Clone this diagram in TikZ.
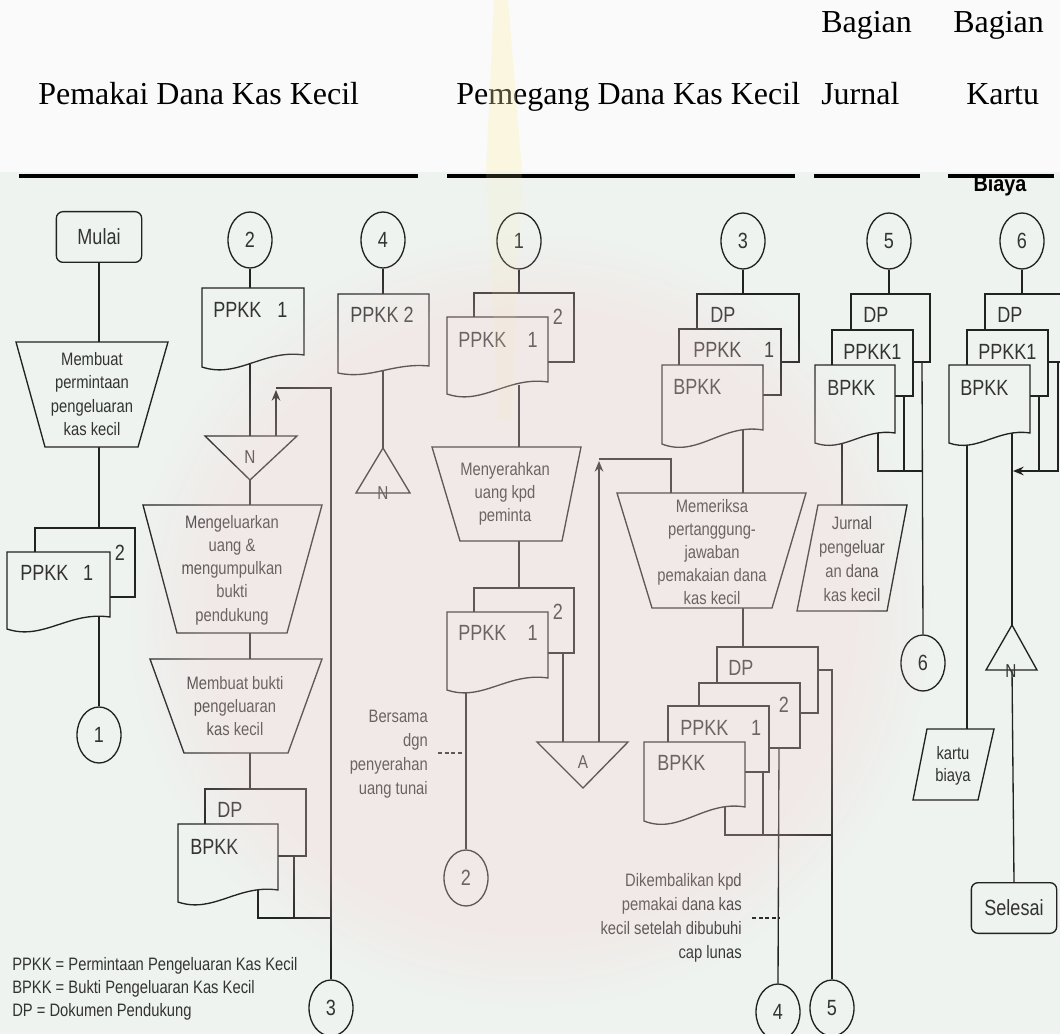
\documentclass[tikz,border=0pt]{standalone}
\usepackage{fontspec}
\setmainfont{Liberation Serif}
\newfontfamily\nar[FakeStretch=0.82]{Liberation Sans}
\newfontfamily\narb[FakeStretch=0.9]{Liberation Sans}
\usetikzlibrary{arrows.meta,shapes.geometric,fadings}

\definecolor{ink}{HTML}{222222}
\definecolor{txt}{HTML}{333333}
\definecolor{bgc}{HTML}{EEF3EF}
\definecolor{hdr}{HTML}{F9FAF9}
\definecolor{wmpink}{HTML}{F7D3D8}
\definecolor{wmyel}{HTML}{FFF0A8}

\tikzset{
  ln/.style={line width=1pt, draw=ink},
  shp/.style={ln, fill=bgc},
  hd/.style={inner sep=0, text=black, font=\fontsize{24}{28}\selectfont},
  bar/.style={line width=3pt, draw=black},
  dlab/.style={inner sep=0, text=txt, font=\nar\fontsize{16.5}{18}\selectfont},
  ptxt/.style={inner sep=0, text=txt, align=center, font=\nar\fontsize{13.5}{17.4}\selectfont},
  note/.style={inner sep=0, text=txt, align=right, font=\nar\fontsize{13.5}{18}\selectfont},
  conn/.style={ellipse, ln, fill=bgc, minimum width=33pt, minimum height=42pt, inner sep=0,
    text=txt, font=\nar\fontsize{16.5}{16.5}\selectfont},
  term/.style={ln, fill=bgc, rounded corners=5pt, minimum width=64pt, minimum height=38pt,
    inner sep=0, text=txt, font=\nar\fontsize{16.5}{18}\selectfont},
  nlab/.style={inner sep=0, text=txt, font=\nar\fontsize{14}{14}\selectfont},
  dashln/.style={ln, dash pattern=on 3pt off 2pt},
  tip/.style={-{Stealth[length=8pt,width=6.5pt]}},
}

% document symbol with a wavy lower edge: x1 y1 x2 y2(right bottom) amplitude
\newcommand\docfront[5]{\filldraw[shp] (#1,#2) -- (#3,#2) -- (#3,#4)
  .. controls ({#1+0.6*(#3-#1)},{#4-0.5*#5}) and ({#1+0.35*(#3-#1)},{#4+2*#5}) .. (#1,{#4+#5}) -- cycle;}
% visible outline of a copy lying behind another one: x1 y1 x2 y2 xfront yfront
\newcommand\docback[6]{\draw[ln] (#1,#6) -- (#1,#2) -- (#3,#2) -- (#3,#4) -- (#5,#4);}
% manual operation: ytop xtl xtr ybot xbl xbr
\newcommand\trapez[6]{\filldraw[shp] (#2,#1) -- (#3,#1) -- (#6,#4) -- (#5,#4) -- cycle;}

\begin{document}
\begin{tikzpicture}[x=0.75pt, y=-0.75pt]
\useasboundingbox (0,0) rectangle (1060,1034);
\fill[bgc] (0,0) rectangle (1060,1034);
\fill[hdr] (0,0) rectangle (1060,172);

% ---------------- header
\node[hd, anchor=base west] (h5) at (821,33) {Bagian};
\node[hd, anchor=base west] (h6) at (953,33) {Bagian};
\node[hd, anchor=base west] (h1) at (38,105) {Pemakai Dana Kas Kecil};
\node[hd, anchor=base west] (h2) at (456,105) {Pemegang Dana Kas Kecil};
\node[hd, anchor=base west] (h3) at (821,105) {Jurnal};
\node[hd, anchor=base west] (h4) at (966,105) {Kartu};
\node[inner sep=0, anchor=base, font=\narb\bfseries\fontsize{16.5}{18}\selectfont] (h7) at (1000,192) {Biaya};
\draw[bar] (19,176) -- (418,176);
\draw[bar] (447,176) -- (795,176);
\draw[bar] (814,176) -- (920,176);
\draw[bar] (948,176) -- (1054,176);

% ---------------- named points
\coordinate (tAt) at (99,342);  \coordinate (tAb) at (99,447);
\coordinate (dAt) at (99,528);  \coordinate (dAb) at (99,610);

\coordinate (dBt) at (250,288); \coordinate (dBb) at (250,355);
\coordinate (nBt) at (250,436); \coordinate (nBb) at (250,480);
\coordinate (tBt) at (250,505); \coordinate (tBb) at (250,633);
\coordinate (tCt) at (250,659); \coordinate (tCb) at (250,753);
\coordinate (eBt) at (250,789);
\coordinate (eB1) at (258,882); \coordinate (eB1j) at (258,918);
\coordinate (eB2) at (294,856); \coordinate (eB2j) at (294,918);
\coordinate (jB) at (331,918);
\coordinate (rBt) at (331,388); \coordinate (rBc) at (276,388);
\coordinate (nBa) at (276,436); \coordinate (rBtip) at (276,390);

\coordinate (dCt) at (383,294);
\coordinate (dCb) at (383,366); \coordinate (nCt) at (383,448);

\coordinate (dDt) at (519,293); \coordinate (dDb) at (519,385);
\coordinate (tDt) at (519,447); \coordinate (tDb) at (519,541);
\coordinate (fDt) at (519,588); \coordinate (fDb) at (466,682);
\coordinate (fD2) at (563,653); \coordinate (aDt) at (563,742);
\coordinate (qD1) at (438,753); \coordinate (qD2) at (466,753);
\coordinate (aDr) at (599,742); \coordinate (aDtip) at (599,461);
\coordinate (rDc) at (599,459); \coordinate (rDe) at (671,459);
\coordinate (tEa) at (671,493);

\coordinate (dEt) at (743,294); \coordinate (dEb) at (743,425);
\coordinate (tEt) at (743,493); \coordinate (tEb) at (743,608);
\coordinate (gEt) at (743,647);
\coordinate (gE1) at (725,800); \coordinate (gE1j) at (725,835);
\coordinate (gE2) at (763,772); \coordinate (gE2j) at (763,835);
\coordinate (gE3) at (779,748);
\coordinate (gE4) at (818,670); \coordinate (gE4c) at (832,670);
\coordinate (jE) at (832,835);
\coordinate (qE1) at (752,918); \coordinate (qE2) at (779,918);

\coordinate (dFt) at (889,294);
\coordinate (dF1) at (878,428); \coordinate (dF1j) at (878,471);
\coordinate (dF2) at (904,396); \coordinate (dF2j) at (904,471);
\coordinate (dF3) at (922,362); \coordinate (jF) at (922,471);
\coordinate (dFb) at (842,438); \coordinate (pFt) at (842,505);

\coordinate (dGt) at (1022,294);
\coordinate (dG2) at (1039,396); \coordinate (dG2j) at (1039,471);
\coordinate (dG3) at (1058,362); \coordinate (dG3j) at (1058,471);
\coordinate (jG) at (1013,471);
\coordinate (dGb) at (1012,428); \coordinate (nGt) at (1012,625);
\coordinate (nGb) at (1012,670);
\coordinate (dGl) at (967,440); \coordinate (pGt) at (967,729);

% ---------------- connectors (drawn first, shapes are filled over their ends)
\node[term] (mulai) at (99,237) {Mulai};
\node[conn] (cA) at (99,735) {1};
\node[conn] (cB) at (250,240) {2};
\node[conn] (cB3) at (331,1008) {3};
\node[conn] (cC) at (383,240) {4};
\node[conn] (cD) at (519,241) {1};
\node[conn] (cD2) at (466,878) {2};
\node[conn] (cE) at (743,241) {3};
\node[conn] (cE4) at (778,1012) {4};
\node[conn] (cE5) at (832,1008) {5};
\node[conn] (cF) at (889,241) {5};
\node[conn] (cF6) at (923,663) {6};
\node[conn] (cG) at (1022,241) {6};
\node[term] (selesai) at (1014,908) {Selesai};

\draw[ln] (mulai.south) -- (tAt);
\draw[ln] (tAb) -- (dAt);
\draw[ln] (dAb) -- (cA.north);

\draw[ln] (cB.south) -- (dBt);
\draw[ln] (dBb) -- (nBt);
\draw[ln] (nBb) -- (tBt);
\draw[ln] (tBb) -- (tCt);
\draw[ln] (tCb) -- (eBt);
\draw[ln] (eB1) -- (eB1j) -- (jB);
\draw[ln] (eB2) -- (eB2j);
\draw[ln] (rBc) -- (rBt) -- (cB3.north);
\draw[ln, tip] (nBa) -- (rBtip);

\draw[ln] (cC.south) -- (dCt);
\draw[ln] (dCb) -- (nCt);

\draw[ln] (cD.south) -- (dDt);
\draw[ln] (dDb) -- (tDt);
\draw[ln] (tDb) -- (fDt);
\draw[ln] (fDb) -- (cD2.north);
\draw[dashln] (qD1) -- (qD2);
\draw[ln] (fD2) -- (aDt);
\draw[ln] (tEa) -- (rDe) -- (rDc);
\draw[ln, tip] (aDr) -- (aDtip);

\draw[ln] (cE.south) -- (dEt);
\draw[ln] (dEb) -- (tEt);
\draw[ln] (tEb) -- (gEt);
\draw[ln] (gE1) -- (gE1j) -- (jE);
\draw[ln] (gE2) -- (gE2j);
\draw[ln] (gE4) -- (gE4c) -- (cE5.north);
\draw[ln] (gE3) -- (cE4.north);
\draw[dashln] (qE1) -- (qE2);

\draw[ln] (cF.south) -- (dFt);
\draw[ln] (dF1) -- (dF1j) -- (jF);
\draw[ln] (dF2) -- (dF2j);
\draw[ln] (dF3) -- (cF6.north);
\draw[ln] (dFb) -- (pFt);

\draw[ln] (cG.south) -- (dGt);
\draw[ln] (dG2) -- (dG2j);
\draw[ln, tip] (dG3) -- (dG3j) -- (jG);
\draw[ln] (dGb) -- (nGt);
\draw[ln] (nGb) -- (selesai.north);
\draw[ln] (dGl) -- (pGt);

% ---------------- column: Mulai
\trapez{342}{16}{168}{447}{45}{138}
\node[ptxt] (tAx) at (92,394) {Membuat\\permintaan\\pengeluaran\\kas kecil};
\docback{35}{528}{135}{597}{110}{552}
\docfront{7}{552}{110}{617}{12}
\node[dlab, anchor=west] (dA1) at (20,573) {PPKK\hspace{11pt}1};
\node[dlab] (dA2) at (120,553) {2};

% ---------------- column: connector 2
\docfront{202}{288}{304}{355}{12}
\node[dlab, anchor=west] (dB1) at (213,310) {PPKK\hspace{12pt}1};
\filldraw[shp] (205,436) -- (297,436) -- (250,480) -- cycle;
\node[nlab] (nB) at (250,457) {N};
\trapez{505}{143}{322}{633}{177}{287}
\node[ptxt] (tBx) at (232,570) {Mengeluarkan\\uang \&\\mengumpulkan\\bukti\\pendukung};
\trapez{659}{150}{322}{753}{184}{288}
\node[ptxt] (tCx) at (235,706) {Membuat bukti\\pengeluaran\\kas kecil};
\docback{205}{789}{306}{856}{278}{824}
\docfront{178}{824}{278}{890}{12}
\node[dlab, anchor=west] (eB1t) at (217,810) {DP};
\node[dlab, anchor=west] (eB2t) at (190,847) {BPKK};

% ---------------- column: connector 4
\docfront{338}{294}{429}{366}{7}
\node[dlab] (dC1) at (382,315) {PPKK 2};
\filldraw[shp] (383,448) -- (410,493) -- (356,493) -- cycle;
\node[nlab] (nC) at (383,493) {N};

% ---------------- column: Pemegang, connector 1
\docback{474}{293}{574}{362}{548}{317}
\docfront{447}{317}{548}{382}{12}
\node[dlab] (dD2) at (558,317) {2};
\node[dlab, anchor=west] (dD1) at (458,340) {PPKK\hspace{16pt}1};
\trapez{447}{432}{581}{541}{460}{562}
\node[ptxt] (tDx) at (505,494) {Menyerahkan\\uang kpd\\peminta};
\docback{474}{588}{574}{653}{548}{612}
\docfront{447}{612}{548}{678}{12}
\node[dlab] (fD2t) at (558,612) {2};
\node[dlab, anchor=west] (fD1t) at (458,633) {PPKK\hspace{16pt}1};
\node[note, anchor=east] (nD) at (428,754) {Bersama\\dgn\\penyerahan\\uang tunai};
\filldraw[shp] (537,742) -- (628,742) -- (583,788) -- cycle;
\node[nlab] (aD) at (583,762) {A};

% ---------------- column: Pemegang, connector 3
\docback{697}{294}{799}{362}{781}{329}
\docback{679}{329}{781}{395}{763}{365}
\docfront{662}{365}{763}{430}{14}
\node[dlab, anchor=west] (dE3) at (710,315) {DP};
\node[dlab, anchor=west] (dE2) at (693,350) {PPKK\hspace{17pt}1};
\node[dlab, anchor=west] (dE1) at (673,387) {BPKK};
\trapez{493}{617}{806}{608}{652}{772}
\node[ptxt] (tEx) at (712,552) {Memeriksa\\pertanggung-\\jawaban\\pemakaian dana\\kas kecil};
\docback{717}{647}{818}{713}{800}{683}
\docback{699}{683}{800}{748}{769}{706}
\docback{668}{706}{769}{772}{745}{742}
\docfront{644}{742}{745}{807}{14}
\node[dlab, anchor=west] (gE4t) at (728,668) {DP};
\node[dlab] (gE3t) at (784,705) {2};
\node[dlab, anchor=west] (gE2t) at (680,728) {PPKK\hspace{17pt}1};
\node[dlab, anchor=west] (gE1t) at (657,763) {BPKK};
\node[note, anchor=east] (nE) at (742,918) {Dikembalikan kpd\\pemakai dana kas\\kecil setelah dibubuhi\\cap lunas};

% ---------------- column: Bagian Jurnal
\docback{851}{294}{930}{362}{913}{330}
\docback{832}{330}{913}{396}{895}{365}
\docfront{815}{365}{895}{433}{10}
\node[dlab, anchor=west] (dF3t) at (863,315) {DP};
\node[dlab, anchor=west] (dF2t) at (843,352) {PPKK1};
\node[dlab, anchor=west] (dF1t) at (827,388) {BPKK};
\filldraw[shp] (818,505) -- (907,505) -- (887,611) -- (797,611) -- cycle;
\node[ptxt, font=\nar\fontsize{13.5}{18}\selectfont] (pF) at (852,559) {Jurnal\\pengeluar\\an dana\\kas kecil};

% ---------------- column: Bagian Kartu Biaya
\docback{985}{294}{1066}{362}{1048}{330}
\docback{967}{330}{1048}{396}{1030}{365}
\docfront{949}{365}{1030}{433}{10}
\node[dlab, anchor=west] (dG3t) at (997,315) {DP};
\node[dlab, anchor=west] (dG2t) at (978,352) {PPKK1};
\node[dlab, anchor=west] (dG1t) at (960,388) {BPKK};
\filldraw[shp] (1012,625) -- (1037,670) -- (986,670) -- cycle;
\node[nlab] (nG) at (1011,671) {N};
\filldraw[shp] (927,729) -- (994,729) -- (978,800) -- (913,800) -- cycle;
\node[ptxt, font=\nar\fontsize{13.5}{16.5}\selectfont] (pG) at (953,766) {kartu\\biaya};

% ---------------- legend
\node[inner sep=0, anchor=west, align=left, text=txt, font=\nar\fontsize{13.5}{17.25}\selectfont] (legend) at (12,989)
  {PPKK = Permintaan Pengeluaran Kas Kecil\\BPKK = Bukti Pengeluaran Kas Kecil\\DP = Dokumen Pendukung};

% ---------------- faint emblem printed over the page
\fill[wmpink, opacity=0.3, path fading=circle with fuzzy edge 20 percent] (530,620) ellipse (300pt and 290pt);
\fill[wmyel, opacity=0.3] (494,0) -- (508,0) -- (522,172) -- (486,172) -- cycle;
\fill[wmyel, opacity=0.12] (486,172) -- (522,172) -- (512,420) -- (498,420) -- cycle;
\end{tikzpicture}
\end{document}
